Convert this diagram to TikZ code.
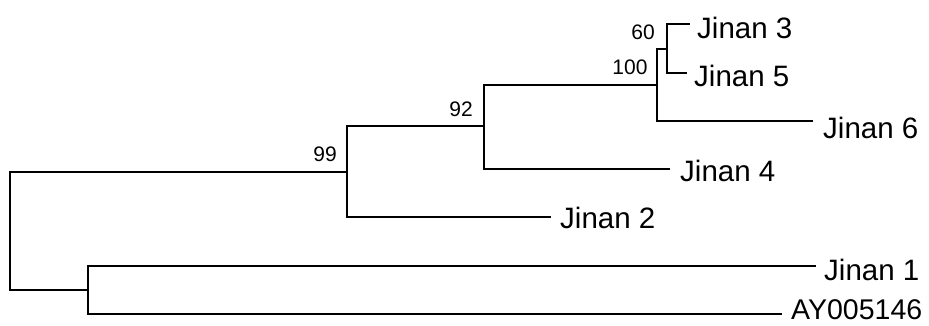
\documentclass[tikz,border=0pt]{standalone}
\usepackage{fontspec}
\setmainfont{Liberation Sans}
\begin{document}
\begin{tikzpicture}[x=1pt,y=-1pt,
  branch/.style={line width=1.8pt, line cap=rect, line join=miter},
  leaf/.style={anchor=west, inner sep=0pt, font=\fontsize{29.5}{32}\selectfont},
  boot/.style={inner sep=0pt, font=\fontsize{21}{24}\selectfont}]
\useasboundingbox (0,0) rectangle (929,325);
% internal nodes
\coordinate (r)    at (10,231);
\coordinate (n99)  at (347,172);
\coordinate (n92)  at (484,126);
\coordinate (n100) at (657,85);
\coordinate (n60)  at (667,49);
\coordinate (nB)   at (88,290);
% branch ends
\coordinate (e3) at (689,24);
\coordinate (e5) at (686,73);
\coordinate (e6) at (812,121);
\coordinate (e4) at (669,169);
\coordinate (e2) at (550,217);
\coordinate (e1) at (815,266);
\coordinate (eA) at (781,314);
% branches
\draw[branch] (r) |- (n99);
\draw[branch] (r) |- (nB);
\draw[branch] (n99) |- (n92);
\draw[branch] (n99) |- (e2);
\draw[branch] (n92) |- (n100);
\draw[branch] (n92) |- (e4);
\draw[branch] (n100) |- (n60);
\draw[branch] (n100) |- (e6);
\draw[branch] (n60) |- (e3);
\draw[branch] (n60) |- (e5);
\draw[branch] (nB) |- (e1);
\draw[branch] (nB) |- (eA);
% leaf labels
\node[leaf] (t3) at (697,28) {Jinan 3};
\node[leaf] (t5) at (694,76) {Jinan 5};
\node[leaf] (t6) at (823,128) {Jinan 6};
\node[leaf] (t4) at (680,171) {Jinan 4};
\node[leaf] (t2) at (560,218) {Jinan 2};
\node[leaf] (t1) at (824,270) {Jinan 1};
\node[leaf, font=\fontsize{28.5}{31}\selectfont] (tA) at (791,310) {AY005146};
% bootstrap values
\node[boot] (b60)  at (643,32) {60};
\node[boot] (b100) at (630,67) {100};
\node[boot] (b92)  at (461,109) {92};
\node[boot] (b99)  at (325,154) {99};
\end{tikzpicture}
\end{document}
